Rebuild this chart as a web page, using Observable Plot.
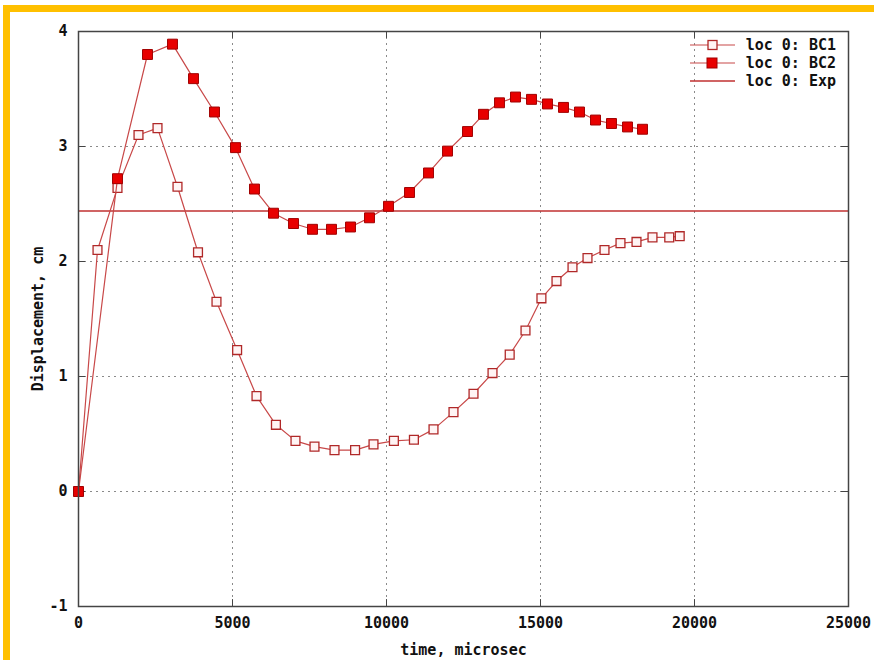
<!DOCTYPE html>
<html>
<head>
<meta charset="utf-8">
<script src="https://cdn.jsdelivr.net/npm/d3@7"></script>
<script src="https://cdn.jsdelivr.net/npm/@observablehq/plot@0.6"></script>
<style>
  html, body { margin: 0; padding: 0; background: #fff; }
  #wrap { position: relative; width: 874px; height: 660px; overflow: hidden; }
  #border { position: absolute; left: 3px; top: 5px; width: 880px; height: 670px;
            border-top: 7px solid #FFC000; border-left: 7px solid #FFC000; pointer-events: none; }
</style>
</head>
<body>
<div id="wrap"><div id="border"></div></div>
<script>
// Data
const bc1Time = [0,617,1266,1948,2565,3214,3880,4480,5150,5779,6410,7045,7662,8312,8980,9578,10240,10890,11526,12175,12825,13442,14000,14513,15030,15519,16039,16526,17078,17597,18117,18636,19180,19520];
const bc1Disp = [0,2.10,2.64,3.10,3.16,2.65,2.08,1.65,1.23,0.83,0.58,0.44,0.39,0.36,0.36,0.41,0.44,0.45,0.54,0.69,0.85,1.03,1.19,1.40,1.68,1.83,1.95,2.03,2.10,2.16,2.17,2.21,2.21,2.22];
const bc2Time = [0,1266,2240,3052,3734,4416,5097,5714,6331,6981,7597,8214,8831,9448,10065,10747,11364,11981,12630,13149,13669,14188,14708,15227,15747,16266,16786,17305,17825,18312];
const bc2Disp = [0,2.72,3.80,3.89,3.59,3.30,2.99,2.63,2.42,2.33,2.28,2.28,2.30,2.38,2.48,2.60,2.77,2.96,3.13,3.28,3.38,3.43,3.41,3.37,3.34,3.30,3.23,3.20,3.17,3.15];
const expValue = 2.44;
const xTicks = [0,5000,10000,15000,20000,25000];
const yTicks = [-1,0,1,2,3,4];
const xGrid = [5000,10000,15000,20000];
const yGrid = [0,1,2,3];
const legendLabels = ["loc 0: BC1","loc 0: BC2","loc 0: Exp"];
const xLabel = "time, microsec";
const yLabel = "Displacement, cm";

const bc1 = bc1Time.map((t,i) => ({t, d: bc1Disp[i]}));
const bc2 = bc2Time.map((t,i) => ({t, d: bc2Disp[i]}));

const lineColor = "#c84848";
const openStroke = "#b02828";
const filledFill = "#e80000";
const filledStroke = "#a00000";
const font = "DejaVu Sans Mono";

const plot = Plot.plot({
  width: 874, height: 660,
  marginLeft: 78, marginRight: 26, marginTop: 31, marginBottom: 54,
  style: {fontFamily: font, fontSize: "15px", fontWeight: "bold", color: "#111", background: "transparent"},
  x: {domain: [0,25000]},
  y: {domain: [-1,4]},
  marks: [
    Plot.gridX(xGrid, {stroke: "#8a8a8a", strokeOpacity: 1, strokeDasharray: "2,4"}),
    Plot.gridY(yGrid, {stroke: "#8a8a8a", strokeOpacity: 1, strokeDasharray: "2,4"}),
    Plot.ruleX(xTicks, {y1: -1, y2: -0.94, stroke: "#444"}),
    Plot.ruleX(xTicks, {y1: 4, y2: 3.94, stroke: "#444"}),
    Plot.ruleY(yTicks, {x1: 0, x2: 230, stroke: "#444"}),
    Plot.ruleY(yTicks, {x1: 25000, x2: 24770, stroke: "#444"}),
    Plot.ruleY([expValue], {stroke: "#c03030", strokeWidth: 1.5}),
    Plot.line(bc1, {x: "t", y: "d", stroke: lineColor, strokeWidth: 1.2}),
    Plot.dot(bc1, {x: "t", y: "d", symbol: "square", r: 5.0, fill: "#fff4f4", stroke: openStroke, strokeWidth: 1.3}),
    Plot.line(bc2, {x: "t", y: "d", stroke: lineColor, strokeWidth: 1.2}),
    Plot.dot(bc2, {x: "t", y: "d", symbol: "square", r: 5.6, fill: filledFill, stroke: filledStroke, strokeWidth: 1}),
    Plot.frame({stroke: "#444", strokeWidth: 1.5}),
    Plot.axisX(xTicks, {tickSize: 0, tickPadding: 11, tickFormat: d => String(d), label: xLabel, labelAnchor: "center", labelOffset: 48, labelArrow: "none"}),
    Plot.axisY(yTicks, {tickSize: 0, tickPadding: 11, tickFormat: d => String(d), label: yLabel, labelAnchor: "center", labelOffset: 46, labelArrow: "none"})
  ]
});

// Legend (gnuplot-style key, inside the top-right corner)
const svg = d3.select(plot);
const key = svg.append("g").attr("font-family", font).attr("font-size", 15).attr("font-weight", "bold");
const rowY = [45, 63, 81];
legendLabels.forEach((lab, i) => {
  const y = rowY[i];
  key.append("line").attr("x1", 690).attr("x2", 735).attr("y1", y).attr("y2", y)
     .attr("stroke", i === 2 ? "#c03030" : lineColor).attr("stroke-width", i === 2 ? 1.5 : 1.2);
  if (i === 0) key.append("rect").attr("x", 708).attr("y", y - 4.5).attr("width", 9).attr("height", 9)
     .attr("fill", "#fff4f4").attr("stroke", openStroke).attr("stroke-width", 1.3);
  if (i === 1) key.append("rect").attr("x", 707).attr("y", y - 5).attr("width", 10).attr("height", 10)
     .attr("fill", filledFill).attr("stroke", filledStroke);
  key.append("text").attr("x", 836).attr("y", y).attr("dy", "0.35em").attr("text-anchor", "end")
     .attr("fill", "#111").text(lab);
});

document.getElementById("wrap").prepend(plot);
</script>
</body>
</html>
